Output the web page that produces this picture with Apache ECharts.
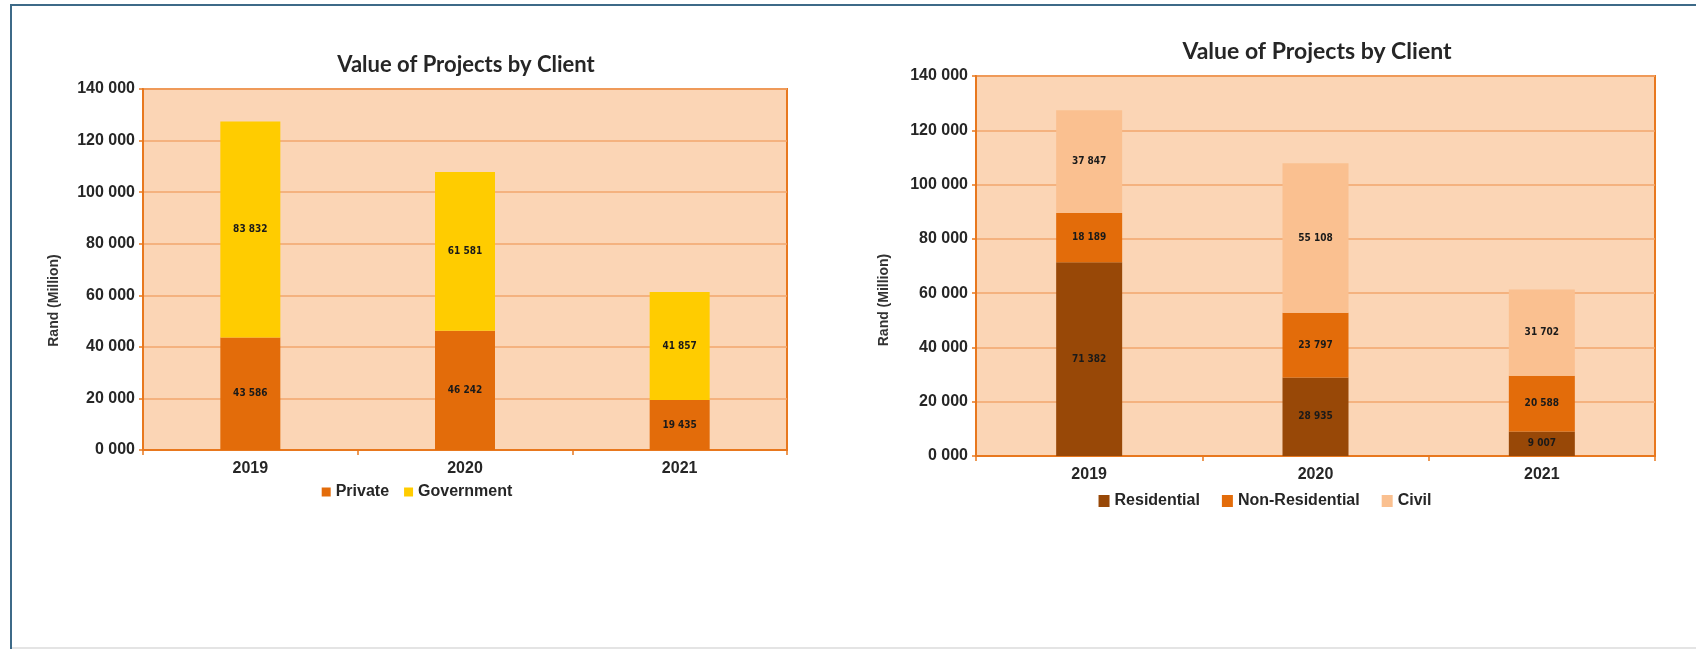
<!DOCTYPE html>
<html>
<head>
<meta charset="utf-8">
<script src="https://cdn.jsdelivr.net/npm/echarts@6/dist/echarts.min.js"></script>
<style>
  html, body { margin: 0; padding: 0; background: #ffffff; }
  #chart { width: 1696px; height: 650px; }
</style>
</head>
<body>
<div id="chart"></div>
<script>
// Years shown on both charts
const years = ['2019', '2020', '2021'];

// Value of projects by client type (Rand, million)
const privateValues = [43586, 46242, 19435];
const governmentValues = [83832, 61581, 41857];

// Value of projects by sector (Rand, million)
const residentialValues = [71382, 28935, 9007];
const nonResidentialValues = [18189, 23797, 20588];
const civilValues = [37847, 55108, 31702];

// Value axis range shared by both charts
const axisMax = 140000;
const axisStep = 20000;

const titleText = 'Value of Projects by Client';
const axisName = 'Rand (Million)';

const orange = '#E8781E';
const gridLine = '#F2A66E';
const plotBg = '#FBD5B5';
const textDark = '#262626';

// "140 000", "0 000" style tick labels
const tickFormat = v => Math.round(v / 1000) + ' 000';
// "83 832" style value labels
const valueFormat = v => String(v).replace(/\B(?=(\d{3})+(?!\d))/g, ' ');

function valueAxis(gridIndex, nameGap, nameShift) {
  return {
    type: 'value', gridIndex, min: 0, max: axisMax, interval: axisStep,
    axisLine: { show: true, lineStyle: { color: orange, width: 2 } },
    axisTick: { show: true, length: 4, lineStyle: { color: orange, width: 1.5 } },
    splitLine: { show: true, lineStyle: { color: gridLine, width: 1.5 } },
    axisLabel: {
      formatter: tickFormat, color: textDark, fontFamily: 'Liberation Sans',
      fontWeight: 'bold', fontSize: 16, margin: 8
    },
    name: axisName, nameLocation: 'middle', nameRotate: 90, nameGap,
    nameTextStyle: {
      color: '#333333', fontFamily: 'Liberation Sans', fontWeight: 'bold', fontSize: 14,
      // push the rotated name a little below the plot's vertical centre
      padding: [0, nameShift, 0, 0]
    }
  };
}

function categoryAxis(gridIndex) {
  return {
    type: 'category', gridIndex, data: years,
    axisLine: { show: true, lineStyle: { color: orange, width: 2 } },
    axisTick: { show: true, alignWithLabel: false, length: 5, lineStyle: { color: orange, width: 1.5 } },
    axisLabel: {
      color: textDark, fontFamily: 'Liberation Sans', fontWeight: 'bold',
      fontSize: 16, margin: 11
    }
  };
}

function barSeries(name, data, color, axisIndex, stack, width) {
  return {
    name, type: 'bar', stack, data, barWidth: width,
    xAxisIndex: axisIndex, yAxisIndex: axisIndex,
    itemStyle: { color },
    label: {
      show: true, position: 'inside', formatter: p => valueFormat(p.value),
      color: '#1a1a1a', fontFamily: 'DejaVu Sans Condensed', fontWeight: 'bold', fontSize: 10
    },
    emphasis: { disabled: true }
  };
}

const legendText = {
  color: textDark, fontFamily: 'Liberation Sans', fontWeight: 'bold', fontSize: 16
};

// horizontal centres of the two legends
const legendCentres = [417, 1265];

const option = {
  animation: false,
  backgroundColor: '#ffffff',
  title: [
    {
      text: titleText, left: 461, top: 49, textAlign: 'center',
      textStyle: { fontFamily: 'Lato', fontWeight: 'bold', fontSize: 22, color: textDark }
    },
    {
      text: titleText, left: 1312, top: 35, textAlign: 'center',
      textStyle: { fontFamily: 'Lato', fontWeight: 'bold', fontSize: 23, color: textDark }
    }
  ],
  legend: [
    {
      data: ['Private', 'Government'], left: legendCentres[0], top: 479,
      icon: 'rect', itemWidth: 9, itemHeight: 9, itemGap: 15,
      textStyle: legendText, selectedMode: false
    },
    {
      data: ['Residential', 'Non-Residential', 'Civil'], left: legendCentres[1], top: 488,
      icon: 'rect', itemWidth: 11, itemHeight: 12, itemGap: 22,
      textStyle: legendText, selectedMode: false
    }
  ],
  grid: [
    {
      left: 143, right: 909, top: 89, bottom: 200, show: true,
      backgroundColor: plotBg, borderColor: orange, borderWidth: 2
    },
    {
      left: 976, right: 41, top: 76, bottom: 194, show: true,
      backgroundColor: plotBg, borderColor: orange, borderWidth: 2
    }
  ],
  xAxis: [categoryAxis(0), categoryAxis(1)],
  yAxis: [valueAxis(0, 82, 62), valueAxis(1, 85, 68)],
  series: [
    barSeries('Private', privateValues, '#E36C0A', 0, 'client', 60),
    barSeries('Government', governmentValues, '#FFCC00', 0, 'client', 60),
    barSeries('Residential', residentialValues, '#984807', 1, 'sector', 66),
    barSeries('Non-Residential', nonResidentialValues, '#E36C0A', 1, 'sector', 66),
    barSeries('Civil', civilValues, '#FAC090', 1, 'sector', 66)
  ],
  graphic: [
    // page frame
    {
      type: 'rect', silent: true,
      shape: { x: 11, y: 5, width: 1700, height: 643 },
      style: { fill: 'none', stroke: '#3D6A88', lineWidth: 2 }
    },
    {
      type: 'line', silent: true,
      shape: { x1: 12, y1: 648, x2: 1696, y2: 648 },
      style: { stroke: '#E4E4E4', lineWidth: 2 }
    }
  ]
};

const chart = echarts.init(document.getElementById('chart'), null, { renderer: 'canvas' });
chart.setOption(option);

// Centre each legend horizontally on its anchor point
function centreLegends() {
  const views = chart._componentsViews.filter(v => v.type === 'legend.plain');
  const lefts = [];
  views.forEach(v => {
    const idx = v.__model ? v.__model.componentIndex : 0;
    const rect = v.group.getBoundingRect();
    lefts[idx] = legendCentres[idx] - rect.width / 2;
  });
  chart.setOption({ legend: [{ left: lefts[0] }, { left: lefts[1] }] });
}
centreLegends();
</script>
</body>
</html>
